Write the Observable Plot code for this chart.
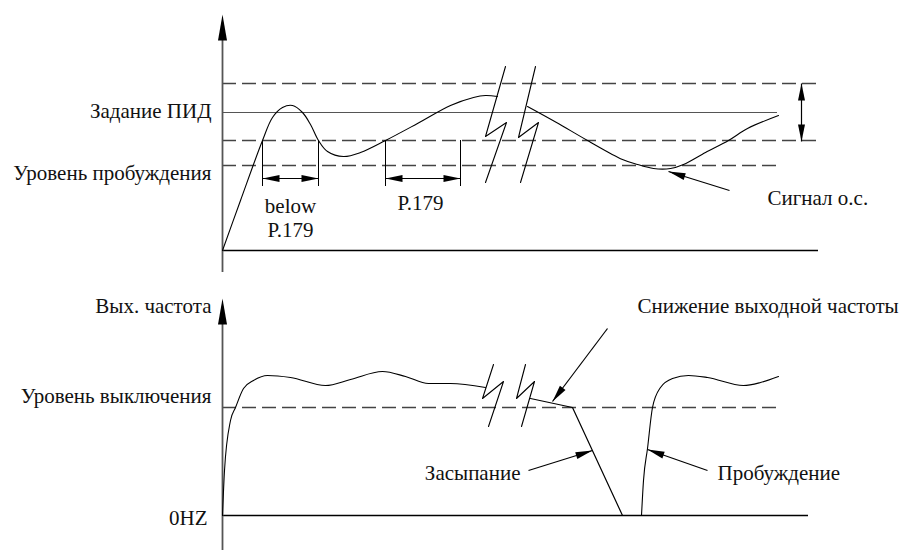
<!DOCTYPE html>
<html>
<head>
<meta charset="utf-8">
<script src="https://cdn.jsdelivr.net/npm/d3@7"></script>
<script src="https://cdn.jsdelivr.net/npm/@observablehq/plot@0.6"></script>
</head>
<body style="margin:0">
<div id="chart"></div>
<script>
// ---- Diagram data (schematic units: x = time, y = level, top → bottom) ----
// Upper panel: feedback signal
const pidCurveBefore = [[222,250],[240,200],[262,140],[272,117],[282,107],[292,105],[302,112],[310,124],[318,140],[327,151],[343,156],[360,152],[385,140],[417,123],[450,105],[473,97],[485,95],[497,96]];
const pidCurveAfter = [[527,106],[556,122],[587,140],[622,159],[637,164],[653,168],[670,168],[683,164],[705,152],[728,140],[747,128],[778,115]];
// Lower panel: output frequency
const freqCurveBefore = [[222,515],[224,470],[230,420],[235,407],[243,388],[253,380],[267,375],[290,377],[325,385],[350,379],[382,371],[405,376],[428,383],[450,383],[485,387]];
const freqSleepSegment = [[530,398],[572,407],[622,515]];
const freqCurveWake = [[641,515],[643,480],[647,448],[652,407],[660,387],[672,378],[688,375],[707,377],[743,385],[760,382],[778,376]];

// Break (zig-zag) marks
const breaks = [
  [[505,66],[485,136],[506,122],[485,182]],
  [[535,66],[518,137],[538,122],[520,182]],
  [[493,364],[482,398],[503,381],[488,426]],
  [[525,364],[516,398],[534,381],[521,426]]
];

// Horizontal reference levels
const solidLevels = [{y:112, x1:222, x2:777}];
const dashedLevels = [
  {y:83, x1:222, x2:818},
  {y:140, x1:222, x2:818},
  {y:165, x1:222, x2:778},
  {y:407, x1:222, x2:778}
];
const baselines = [{y:250, x1:222, x2:818}, {y:515, x1:222, x2:808}];
const axes = [{x:222, y1:30, y2:272}, {x:222, y1:314, y2:550}];
const axisTips = [{x1:222, y1:60, x2:222, y2:14}, {x1:222, y1:340, x2:222, y2:298}];

// Interval brackets
const bracketTicks = [{x:262,y1:140,y2:186},{x:318,y1:140,y2:186},{x:385,y1:140,y2:186},{x:460,y1:140,y2:186}];

// Arrows [x1,y1] -> [x2,y2]; both = heads on both ends
const arrows = [
  {x1:262, y1:178, x2:318, y2:178, both:true},
  {x1:385, y1:178, x2:460, y2:178, both:true},
  {x1:801, y1:83,  x2:801, y2:141, both:true},
  {x1:729, y1:190, x2:668, y2:171, both:false},
  {x1:607, y1:328, x2:552, y2:401, both:false},
  {x1:528, y1:470, x2:592, y2:450, both:false},
  {x1:707, y1:470, x2:647, y2:449, both:false}
];

// Labels
const leftLabels = [
  {x:211, y:111, text:"Задание ПИД"},
  {x:211, y:173, text:"Уровень пробуждения"},
  {x:211, y:306, text:"Вых. частота"},
  {x:211, y:396, text:"Уровень выключения"},
  {x:207, y:518, text:"0HZ"},
  {x:520, y:473, text:"Засыпание"}
];
const rightLabels = [
  {x:767, y:198, text:"Сигнал о.с."},
  {x:637, y:306, text:"Снижение выходной частоты"},
  {x:717, y:473, text:"Пробуждение"}
];
const centerLabels = [
  {x:290, y:206, text:"below"},
  {x:290, y:230, text:"P.179"},
  {x:420, y:203, text:"P.179"}
];

// ---- helpers ----
function headSymbol(L, W) {
  return {draw(ctx) { ctx.moveTo(0,0); ctx.lineTo(-W/2, L); ctx.lineTo(W/2, L); ctx.closePath(); }};
}
const angle = (dx, dy) => Math.atan2(dx, -dy) * 180 / Math.PI;
const heads = [];
for (const a of arrows) {
  heads.push({x:a.x2, y:a.y2, r:angle(a.x2-a.x1, a.y2-a.y1)});
  if (a.both) heads.push({x:a.x1, y:a.y1, r:angle(a.x1-a.x2, a.y1-a.y2)});
}
const tipHeads = axisTips.map(a => ({x:a.x2, y:a.y2, r:angle(a.x2-a.x1, a.y2-a.y1)}));

const X = d => d[0], Y = d => d[1];
const curveStyle = {x:X, y:Y, stroke:"#000", strokeWidth:1.1, curve:"catmull-rom"};
const textMark = (data, anchor) => Plot.text(data, {x:"x", y:"y", text:"text", textAnchor:anchor, fontSize:21, fill:"#111", fontFamily:"Liberation Serif"});

const chart = Plot.plot({
  width: 902,
  height: 550,
  margin: 0,
  x: {domain:[0,902], range:[0,902], axis:null},
  y: {domain:[0,550], range:[0,550], axis:null},
  marks: [
    Plot.ruleY(dashedLevels, {y:"y", x1:"x1", x2:"x2", stroke:"#444", strokeWidth:1.3, strokeDasharray:"14,6"}),
    Plot.ruleY(solidLevels, {y:"y", x1:"x1", x2:"x2", stroke:"#555", strokeWidth:1.2}),
    Plot.ruleY(baselines, {y:"y", x1:"x1", x2:"x2", stroke:"#000", strokeWidth:1.4}),
    Plot.ruleX(axes, {x:"x", y1:"y1", y2:"y2", stroke:"#555", strokeWidth:1.8}),
    Plot.ruleX(bracketTicks, {x:"x", y1:"y1", y2:"y2", stroke:"#000", strokeWidth:1}),
    Plot.line(pidCurveBefore, curveStyle),
    Plot.line(pidCurveAfter, curveStyle),
    Plot.line(freqCurveBefore, {...curveStyle, curve:"monotone-x"}),
    Plot.line(freqSleepSegment, {x:X, y:Y, stroke:"#000", strokeWidth:1.2}),
    Plot.line(freqCurveWake, {...curveStyle, curve:"monotone-x"}),
    ...breaks.map(b => Plot.line(b, {x:X, y:Y, stroke:"#000", strokeWidth:1.1})),
    Plot.link(arrows, {x1:"x1", y1:"y1", x2:"x2", y2:"y2", stroke:"#000", strokeWidth:1.2}),
    Plot.dot(heads, {x:"x", y:"y", rotate:"r", symbol: headSymbol(17, 7), fill:"#000", stroke:"none"}),
    Plot.dot(tipHeads, {x:"x", y:"y", rotate:"r", symbol: headSymbol(26, 9), fill:"#000", stroke:"none"}),
    textMark(leftLabels, "end"),
    textMark(rightLabels, "start"),
    textMark(centerLabels, "middle")
  ]
});
document.getElementById("chart").appendChild(chart);
</script>
</body>
</html>
